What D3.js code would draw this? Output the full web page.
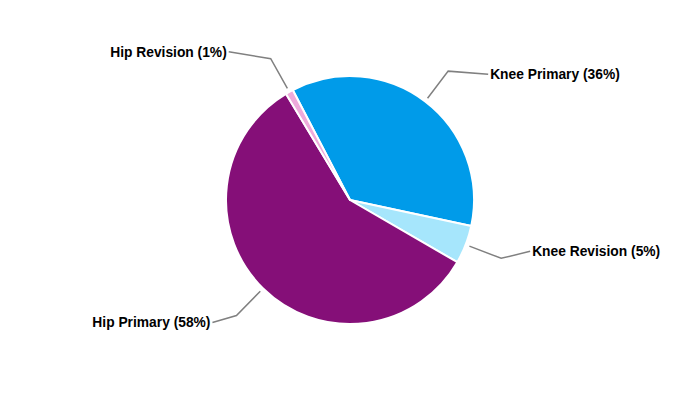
<!DOCTYPE html>
<html>
<head>
<meta charset="utf-8">
<script src="https://cdn.jsdelivr.net/npm/d3@7/dist/d3.min.js"></script>
<style>
  html, body { margin: 0; padding: 0; background: #ffffff; }
  text { font-family: "Liberation Sans", Arial, sans-serif; font-weight: bold; font-size: 13.8px; fill: #000; }
</style>
</head>
<body>
<svg id="chart" width="700" height="400"></svg>
<script>
const categories = ["Knee Primary", "Knee Revision", "Hip Primary", "Hip Revision"];
const values = [36, 5, 58, 1];
const colors = ["#009be9", "#a6e6fc", "#850f78", "#eeaadb"];

const width = 700, height = 400;
const cx = 350, cy = 200, radius = 124;
const startDeg = -27.5;

const svg = d3.select("#chart");
const g = svg.append("g").attr("transform", `translate(${cx},${cy})`);

const data = categories.map((c, i) => ({ name: c, value: values[i], color: colors[i] }));
const total = d3.sum(values);

const pie = d3.pie()
  .sort(null)
  .value(d => d.value)
  .startAngle(startDeg * Math.PI / 180)
  .endAngle((startDeg + 360) * Math.PI / 180);

const arc = d3.arc().innerRadius(0).outerRadius(radius);
const arcs = pie(data);

g.selectAll("path.slice")
  .data(arcs)
  .join("path")
  .attr("class", "slice")
  .attr("d", arc)
  .attr("fill", d => d.data.color)
  .attr("stroke", "#ffffff")
  .attr("stroke-width", 2)
  .attr("stroke-linejoin", "round");

// leader lines + labels (layout tweaks per label)
const labelDy = [3, -7, 7, -7];
const labelLen = [40, 29, 24, 42];
const rStart = d3.arc().innerRadius(radius + 4).outerRadius(radius + 4);
const rElbow = d3.arc().innerRadius(radius + 38).outerRadius(radius + 38);

arcs.forEach((a, i) => {
  const p0 = rStart.centroid(a);
  const p1 = rElbow.centroid(a);
  const right = p1[0] > 0;
  const p2 = [p1[0] + (right ? labelLen[i] : -labelLen[i]), p1[1] + labelDy[i]];
  g.append("polyline")
    .attr("points", [p0, p1, p2].map(p => p.join(",")).join(" "))
    .attr("fill", "none")
    .attr("stroke", "#808080")
    .attr("stroke-width", 1.5);
  const pct = Math.round(a.data.value / total * 100);
  g.append("text")
    .attr("x", p2[0] + (right ? 2 : -2))
    .attr("y", p2[1])
    .attr("dy", "0.35em")
    .attr("text-anchor", right ? "start" : "end")
    .text(`${a.data.name} (${pct}%)`);
});
</script>
</body>
</html>
